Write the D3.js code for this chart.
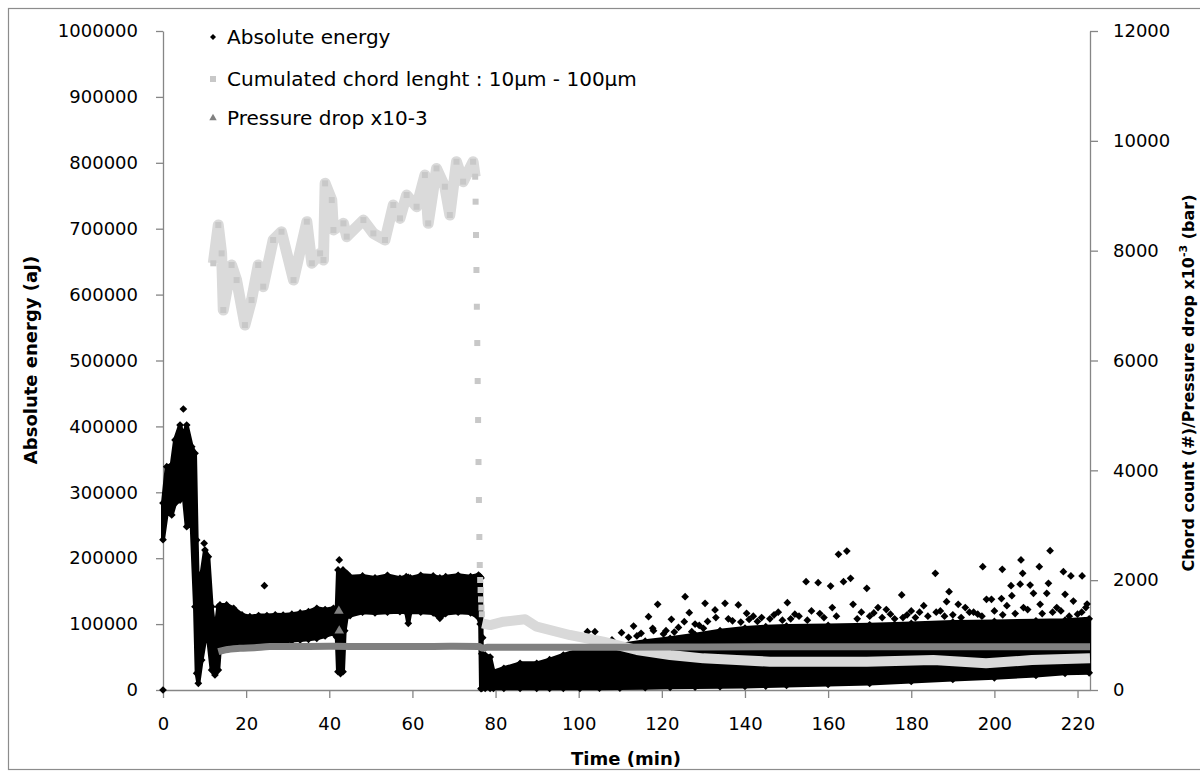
<!DOCTYPE html>
<html>
<head>
<meta charset="utf-8">
<script src="https://cdn.jsdelivr.net/npm/d3@7"></script>
<style>
  body { margin: 0; background: #fff; }
  text { font-family: "DejaVu Sans", sans-serif; fill: #000; }
</style>
</head>
<body>
<div id="chart"></div>
<script>
"use strict";

// Absolute energy (aJ), dense band read as lower / upper envelope
var energyT = [0.0, 0.9, 2.1, 2.9, 4.1, 4.9, 5.7, 6.9, 7.7, 8.1, 8.5, 9.3, 10.1, 10.9, 11.7, 12.5, 13.3, 13.7, 15.3, 17, 19, 20.9, 23, 25, 27, 28.9, 31, 33, 35, 37, 39, 41, 41.8, 42.1, 42.7, 43.3, 43.7, 44.2, 45, 48, 51, 54, 57, 58.5, 59, 59.5, 62, 65, 66.6, 68, 71, 74, 75.9, 76.3, 76.5, 76.7, 77.5, 78.7, 79.5, 82, 85.9, 89.9, 93, 96.3, 100.3, 105, 109.9, 116, 122, 128, 134, 140, 145, 150, 160, 170, 180, 190, 200, 210, 217, 222.8];
var energyLow = [228000, 268100, 265600, 283300, 288300, 300000, 247800, 250000, 126400, 25300, 10100, 45500, 75900, 75900, 30300, 22800, 30300, 65700, 66000, 67000, 68000, 68300, 70000, 71000, 72000, 73300, 75000, 76000, 77000, 78400, 82000, 86000, 80000, 27800, 25000, 27800, 90000, 111200, 113000, 118000, 117000, 118000, 118800, 118000, 101200, 118000, 118000, 117000, 108800, 116000, 118000, 117000, 110000, 100000, 2000, 2600, 2600, 2600, 2600, 2600, 2600, 2600, 2600, 2600, 2600, 2800, 3000, 3500, 4000, 4500, 5000, 5500, 6000, 7000, 8500, 10000, 13000, 16000, 18500, 22000, 25300, 26000];
var energyHigh = [283700, 338900, 341400, 379400, 402100, 385000, 402100, 369200, 359200, 227600, 126400, 177000, 212400, 202300, 126400, 86000, 126400, 129000, 129000, 124000, 114000, 111200, 113000, 113000, 114000, 113800, 115000, 117000, 119000, 124000, 122000, 124000, 125000, 182100, 178000, 182100, 170000, 177100, 172000, 173000, 170000, 174000, 169500, 172000, 171000, 170000, 174000, 173000, 170000, 172000, 174000, 172000, 174500, 172000, 170000, 55000, 53100, 50000, 27800, 33000, 40500, 40500, 46000, 53100, 60700, 64000, 68300, 74000, 78400, 84000, 90000, 94000, 96000, 97000, 98000, 99000, 101000, 103000, 104000, 105000, 106000, 108000];

// Absolute energy, isolated points above the band
var outlierT = [0, 4.9, 9.9, 24.4, 42.4, 76.9, 102.1, 103.9, 110.3, 112, 113.2, 116.8, 117.8, 118, 119.0, 120.4, 122.3, 124, 125.4, 125.6, 126.6, 127.2, 128, 130.0, 130.4, 132.8, 133, 135.2, 137, 138.4, 140.4, 142, 146, 148, 150.2, 152, 154.7, 156, 157.6, 159, 160.6, 161, 162.5, 163.7, 164.5, 165.4, 166, 168, 169.3, 170, 172, 175, 177.7, 178, 180, 183, 185.8, 186, 188, 188.5, 189.1, 191.3, 193, 195, 196, 197.2, 198.1, 199.3, 201.7, 201.9, 203, 204.0, 204.2, 205, 206.2, 206.4, 206.8, 207, 208.6, 209.4, 210.8, 211, 212.6, 213.0, 213.4, 214, 215, 216.6, 217.0, 218.4, 219, 220, 221.1, 222, 222.3,
    106, 108, 114, 115, 121, 123, 129, 131, 136, 139, 141, 143, 144, 147, 149, 151, 153, 155, 158, 162, 167, 171, 173, 174, 176, 179, 181, 182, 184, 187, 190, 192, 194, 197, 200, 202, 208, 211.5, 216, 218, 221];
var outlierV = [0, 426400, 222600, 158300, 197300, 79400, 88500, 88500, 87000, 80000, 97100, 111200, 93600, 90000, 130000, 85000, 107300, 95000, 103600, 141600, 117300, 88500, 100000, 93600, 131500, 121400, 110000, 131500, 105000, 129000, 116400, 112000, 108000, 118000, 132500, 115000, 164400, 120000, 162900, 110000, 157800, 125000, 205900, 164400, 210900, 169500, 130000, 118000, 154300, 112000, 125000, 115000, 144200, 110000, 120000, 128000, 177100, 118000, 112000, 134000, 149200, 130000, 125000, 118000, 115000, 187100, 137600, 137600, 138700, 183100, 128000, 158300, 143100, 116000, 160600, 197300, 177100, 125000, 159300, 146700, 187100, 130000, 146700, 161900, 211400, 118000, 125000, 179500, 145200, 173000, 135000, 115000, 173000, 125000, 130500,
    72000, 76000, 82000, 86000, 90000, 88000, 98000, 104000, 108000, 103000, 107000, 104000, 110000, 114000, 106000, 108000, 112000, 106000, 116000, 112000, 108000, 117000, 110000, 122000, 108000, 114000, 110000, 118000, 112000, 120000, 114000, 110000, 118000, 112000, 120000, 114000, 122000, 116000, 120000, 112000, 118000];

// Cumulated chord length 10-100 µm (right axis, #)
var chordT = [12.1, 13.3, 14.1, 14.5, 16.5, 17.7, 19.7, 21.3, 22.9, 24.1, 26.5, 28.5, 31.4, 34.6, 35.8, 37.8, 38.6, 39.0, 40.6, 41.0, 43.4, 44.2, 48.2, 50.6, 53.4, 55.4, 57.0, 58.6, 61.0, 63.0, 63.8, 65.8, 67.8, 69.0, 70.6, 72.2, 74.6, 75.1];
var chordV = [7770, 8467, 7951, 6919, 7739, 7465, 6646, 7101, 7739, 7344, 8194, 8345, 7465, 8528, 7770, 7951, 7830, 9226, 8922, 8376, 8497, 8255, 8558, 8315, 8194, 8831, 8588, 9013, 8800, 9377, 8497, 9498, 9164, 8649, 9620, 9256, 9620, 9347];
var chordDropT = [75.2, 75.3, 75.4, 75.5, 75.6, 75.7, 75.8, 75.9, 76.0, 76.1, 76.2, 76.3, 76.4, 76.5, 76.6, 76.7];
var chordDropV = [8892, 8285, 7648, 6979, 6318, 5626, 4916, 4151, 3460, 2786, 2276, 2003, 1821, 1650, 1500, 1380];
var chordTailT = [76.8, 78.7, 81.9, 87.1, 89.9, 97.9, 105.9, 114.0, 122.0, 130.0, 138.0, 146.0, 153, 169.3, 185.3, 198, 209, 223];
var chordTailV = [1214, 1183, 1244, 1287, 1153, 1001, 880, 728, 637, 576, 546, 516, 516, 516, 546, 486, 546, 577];

// Pressure drop x10-3 (right axis, bar)
var pressT = [13.3, 15, 18.5, 22, 25.7, 30, 40, 50, 60, 70, 76, 77, 78, 90, 110, 130, 150, 170, 190, 210, 223];
var pressV = [697, 730, 759, 770, 790, 790, 795, 790, 790, 795, 790, 760, 780, 777, 777, 785, 789, 789, 789, 789, 789];
var pressSpikeT = [42.3, 42.4];
var pressSpikeV = [1438, 1080];

var xTicks = [0, 20, 40, 60, 80, 100, 120, 140, 160, 180, 200, 220];
var leftTicks = [0, 100000, 200000, 300000, 400000, 500000, 600000, 700000, 800000, 900000, 1000000];
var rightTicks = [0, 2000, 4000, 6000, 8000, 10000, 12000];

var legendLabels = ["Absolute energy", "Cumulated chord lenght : 10\u00b5m - 100\u00b5m", "Pressure drop x10-3"];

var w = 1200;
var h = 778;
var axisColor = "#868686";

var x = d3.scaleLinear().domain([0, 223]).range([163, 1090]);
var yLeft = d3.scaleLinear().domain([0, 1000000]).range([690, 31]);
var yRight = d3.scaleLinear().domain([0, 12000]).range([690, 31]);

var svg = d3.select("#chart")
    .append("svg")
    .attr("width", w)
    .attr("height", h);

svg.append("rect")
    .attr("width", w)
    .attr("height", h)
    .attr("fill", "#fff");

// outer chart border
svg.append("rect")
    .attr("x", 8.5)
    .attr("y", 8.5)
    .attr("width", 1200)
    .attr("height", 761)
    .attr("fill", "none")
    .attr("stroke", "#8c8c8c")
    .attr("stroke-width", 1.2);

// diamond marker, square rotated 45 degrees
var diamond = d3.symbol().type(d3.symbolSquare).size(30);

function drawAxis(g) {
    g.select(".domain").attr("stroke", axisColor).attr("stroke-width", 1.3);
    g.selectAll(".tick line").attr("stroke", axisColor).attr("stroke-width", 1.3);
    g.selectAll(".tick text").style("font-size", "18px");
}

// axes
svg.append("g")
    .attr("transform", "translate(0,690)")
    .call(d3.axisBottom(x).tickValues(xTicks).tickSize(8).tickSizeOuter(0).tickPadding(19))
    .call(drawAxis);

svg.append("g")
    .attr("transform", "translate(163,0)")
    .call(d3.axisLeft(yLeft).tickValues(leftTicks).tickSize(7).tickSizeOuter(0).tickPadding(18).tickFormat(d3.format("d")))
    .call(drawAxis);

svg.append("g")
    .attr("transform", "translate(1090,0)")
    .call(d3.axisRight(yRight).tickValues(rightTicks).tickSize(8).tickSizeOuter(0).tickPadding(15).tickFormat(d3.format("d")))
    .call(drawAxis);

svg.selectAll(".domain").attr("fill", "none");

// energy band
var energy = energyT.map(function (t, i) {
    return { t: t, lo: energyLow[i], hi: energyHigh[i] };
});

var area = d3.area()
    .x(function (d) { return x(d.t); })
    .y0(function (d) { return yLeft(d.lo); })
    .y1(function (d) { return yLeft(d.hi); });

svg.append("path")
    .datum(energy)
    .attr("d", area)
    .attr("fill", "#000")
    .attr("stroke", "#000")
    .attr("stroke-width", 4)
    .attr("stroke-linejoin", "round");

// ragged edge of the band
var edgePts = [];
energy.forEach(function (d) {
    edgePts.push([d.t, d.lo]);
    edgePts.push([d.t, d.hi]);
});

svg.append("g")
    .selectAll("path")
    .data(edgePts)
    .enter()
    .append("path")
    .attr("d", diamond)
    .attr("transform", function (d) {
        return "translate(" + x(d[0]) + "," + yLeft(d[1]) + ") rotate(45)";
    })
    .attr("fill", "#000");

svg.append("g")
    .selectAll("path")
    .data(outlierT)
    .enter()
    .append("path")
    .attr("d", diamond)
    .attr("transform", function (d, i) {
        return "translate(" + x(d) + "," + yLeft(outlierV[i]) + ") rotate(45)";
    })
    .attr("fill", "#000");

// chord series
var line = d3.line()
    .x(function (d) { return x(d[0]); })
    .y(function (d) { return yRight(d[1]); });

var chordPts = chordT.map(function (t, i) { return [t, chordV[i]]; });
var chordTail = chordTailT.map(function (t, i) { return [t, chordTailV[i]]; });
var chordDrop = chordDropT.map(function (t, i) { return [t, chordDropV[i]]; });

svg.append("path")
    .datum(chordPts)
    .attr("d", line)
    .attr("fill", "none")
    .attr("stroke", "#dadada")
    .attr("stroke-width", 11)
    .attr("stroke-linejoin", "round");

svg.append("g")
    .selectAll("rect")
    .data(chordPts.concat(chordDrop))
    .enter()
    .append("rect")
    .attr("x", function (d) { return x(d[0]) - 3; })
    .attr("y", function (d) { return yRight(d[1]) - 3; })
    .attr("width", 6)
    .attr("height", 6)
    .attr("fill", "#c8c8c8");

svg.append("path")
    .datum(chordTail)
    .attr("d", line)
    .attr("fill", "none")
    .attr("stroke", "#d9d9d9")
    .attr("stroke-width", 10)
    .attr("stroke-linejoin", "round");

// pressure drop
var pressPts = pressT.map(function (t, i) { return [t, pressV[i]]; });

svg.append("path")
    .datum(pressPts)
    .attr("d", line.curve(d3.curveMonotoneX))
    .attr("fill", "none")
    .attr("stroke", "#808080")
    .attr("stroke-width", 7);

var triangle = d3.symbol().type(d3.symbolTriangle).size(40);

svg.append("g")
    .selectAll("path")
    .data(pressSpikeT)
    .enter()
    .append("path")
    .attr("d", triangle)
    .attr("transform", function (d, i) {
        return "translate(" + x(d) + "," + yRight(pressSpikeV[i]) + ")";
    })
    .attr("fill", "#808080");

// axis titles
svg.append("text")
    .attr("x", 626)
    .attr("y", 765)
    .attr("text-anchor", "middle")
    .style("font-size", "18px")
    .style("font-weight", "bold")
    .text("Time (min)");

svg.append("text")
    .attr("transform", "translate(37,360) rotate(-90)")
    .attr("text-anchor", "middle")
    .style("font-size", "18px")
    .style("font-weight", "bold")
    .text("Absolute energy (aJ)");

var rightTitle = svg.append("text")
    .attr("transform", "translate(1194,383) rotate(-90)")
    .attr("text-anchor", "middle")
    .style("font-size", "16px")
    .style("font-weight", "bold");
rightTitle.append("tspan").text("Chord count (#)/Pressure drop x10");
rightTitle.append("tspan").attr("dy", -7).style("font-size", "11px").text("-3");
rightTitle.append("tspan").attr("dy", 7).text(" (bar)");

// legend
var legend = svg.append("g");
var legendY = [37, 79, 118];

legend.selectAll("text")
    .data(legendLabels)
    .enter()
    .append("text")
    .attr("x", 227)
    .attr("y", function (d, i) { return legendY[i] + 7; })
    .style("font-size", "20px")
    .text(function (d) { return d; });

legend.append("path")
    .attr("d", d3.symbol().type(d3.symbolSquare).size(18))
    .attr("transform", "translate(213," + legendY[0] + ") rotate(45)")
    .attr("fill", "#000");

legend.append("rect")
    .attr("x", 210)
    .attr("y", legendY[1] - 3)
    .attr("width", 6)
    .attr("height", 6)
    .attr("fill", "#c8c8c8");

legend.append("path")
    .attr("d", d3.symbol().type(d3.symbolTriangle).size(24))
    .attr("transform", "translate(213," + legendY[2] + ")")
    .attr("fill", "#808080");
</script>
</body>
</html>
